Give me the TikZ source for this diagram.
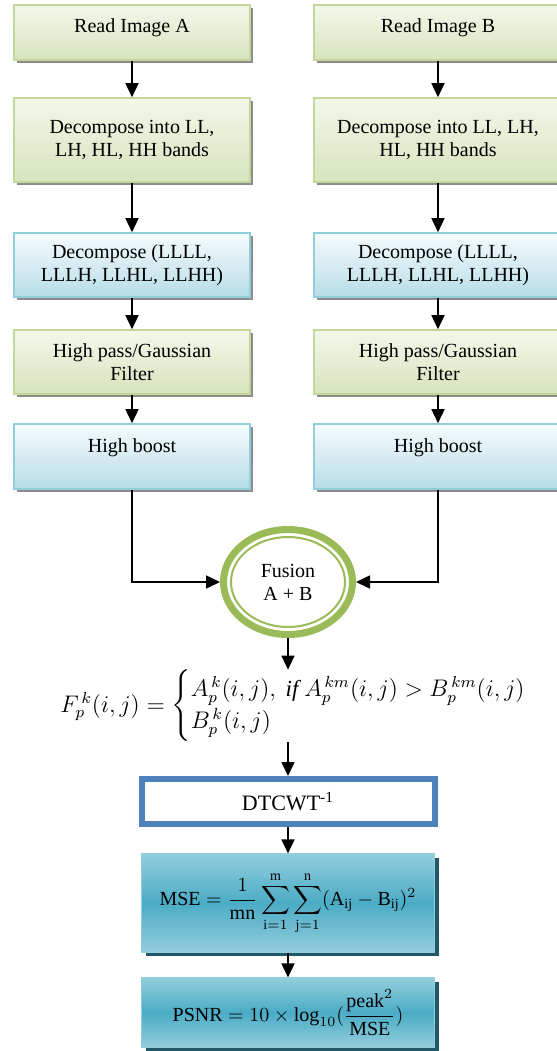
\documentclass[tikz,border=0pt]{standalone}
\usepackage{amsmath}
\usepackage{fontspec}
\setmainfont{Liberation Serif}
\usetikzlibrary{arrows.meta,shapes.geometric,shadows}

\definecolor{oliveline}{HTML}{C3D69B}
\definecolor{olivetop}{HTML}{F3F7EA}
\definecolor{olivebot}{HTML}{D7E4BD}
\definecolor{aqualine}{HTML}{92CDDC}
\definecolor{aquatop}{HTML}{F6FBFC}
\definecolor{aquabot}{HTML}{B7DDE8}
\definecolor{aquamid}{HTML}{4BACC6}
\definecolor{aquadark}{HTML}{215868}
\definecolor{ringgreen}{HTML}{9BBB59}
\definecolor{frameblue}{HTML}{4F81BD}

\begin{document}
\begin{tikzpicture}[x=0.5pt, y=-0.5pt,
	every node/.style={align=center, inner sep=0pt, font=\fontsize{10}{11.5}\selectfont},
	>={Triangle[length=7pt,width=6.5pt]},
	flow/.style={->, line width=0.8pt},
	greenbox/.style={draw=oliveline, line width=0.8pt, top color=olivetop, bottom color=olivebot,
		drop shadow={shadow xshift=1.5pt, shadow yshift=-1.5pt, fill=black!45, opacity=1}},
	bluebox/.style={draw=aqualine, line width=0.8pt, top color=aquatop, bottom color=aquabot,
		drop shadow={shadow xshift=1.5pt, shadow yshift=-1.5pt, fill=black!45, opacity=1}},
	tealbox/.style={draw=aqualine, line width=0.6pt, top color=aqualine, bottom color=aqualine, middle color=aquamid,
		drop shadow={shadow xshift=2pt, shadow yshift=-2pt, fill=aquadark, opacity=1}}]
	
	\useasboundingbox (0,0) rectangle (557,1051);
	
	%---------------------------------------------
	
	\foreach \s/\cx/\w/\dec in {A/132/118pt/{Decompose into LL,\\LH, HL, HH bands},
		B/438/124pt/{Decompose into LL, LH,\\HL, HH bands}} {
		\node[greenbox, minimum width=\w, minimum height=27.5pt, text depth=6.7pt] (\s1) at (\cx,32.5) {Read Image \s};
		\node[greenbox, minimum width=\w, minimum height=42pt] (\s2) at (\cx,140) {\dec};
		\node[bluebox, minimum width=\w, minimum height=32pt] (\s3) at (\cx,265) {Decompose (LLLL,\\LLLH, LLHL, LLHH)};
		\node[greenbox, minimum width=\w, minimum height=32pt] (\s4) at (\cx,362) {High pass/Gaussian\\Filter};
		\node[bluebox, minimum width=\w, minimum height=32.5pt, text depth=10.7pt] (\s5) at (\cx,456.5) {High boost};
		
		\draw[flow] (\s1) -- (\s2);
		\draw[flow] (\s2) -- (\s3);
		\draw[flow] (\s3) -- (\s4);
		\draw[flow] (\s4) -- (\s5);
	}
	
	%---------------------------------------------
	
	\node[ellipse, draw=ringgreen, line width=3.5pt, minimum width=64.5pt, minimum height=52.5pt] (fusion) at (288,582) {Fusion\\A + B};
	\draw[ringgreen, line width=1pt] (fusion.center) ellipse [x radius=28.5pt, y radius=22.5pt];
	
	\draw[flow] (A5) |- (fusion);
	\draw[flow] (B5) |- (fusion);
	
	\node[anchor=west, font=\fontsize{11.5}{13.5}\selectfont] (rule) at (60,706)
		{$F_{p}^{\,k}(i,j) = \begin{cases} A_{p}^{\,k}(i,j),\ \textit{if}\ A_{p}^{\,km}(i,j) > B_{p}^{\,km}(i,j)\\ B_{p}^{\,k}(i,j) \end{cases}$};
	
	\node[draw=frameblue, line width=3pt, fill=white, minimum width=146.5pt, minimum height=22.5pt, font=\fontsize{11}{13}\selectfont] (dtcwt) at (288,801.5) {DTCWT\textsuperscript{-1}};
	
	\node[tealbox, minimum width=146.5pt, minimum height=49pt] (mse) at (288,903)
		{$\displaystyle \mathrm{MSE} = \frac{1}{\mathrm{mn}} \sum_{\mathrm{i}=1}^{\mathrm{m}} \sum_{\mathrm{j}=1}^{\mathrm{n}} (\mathrm{A}_{\mathrm{ij}} - \mathrm{B}_{\mathrm{ij}})^2$};
	\node[tealbox, minimum width=146.5pt, minimum height=34.5pt] (psnr) at (288,1012.5)
		{$\displaystyle \mathrm{PSNR} = 10 \times \log_{10}(\frac{\mathrm{peak}^2}{\mathrm{MSE}})$};
	
	\draw[flow] (fusion) -- (fusion |- rule.north);
	\draw[flow] (dtcwt |- rule.south) -- (dtcwt);
	\draw[flow] (dtcwt) -- (mse);
	\draw[flow] (mse) -- (psnr);
	
	%---------------------------------------------
	
\end{tikzpicture}
\end{document}
